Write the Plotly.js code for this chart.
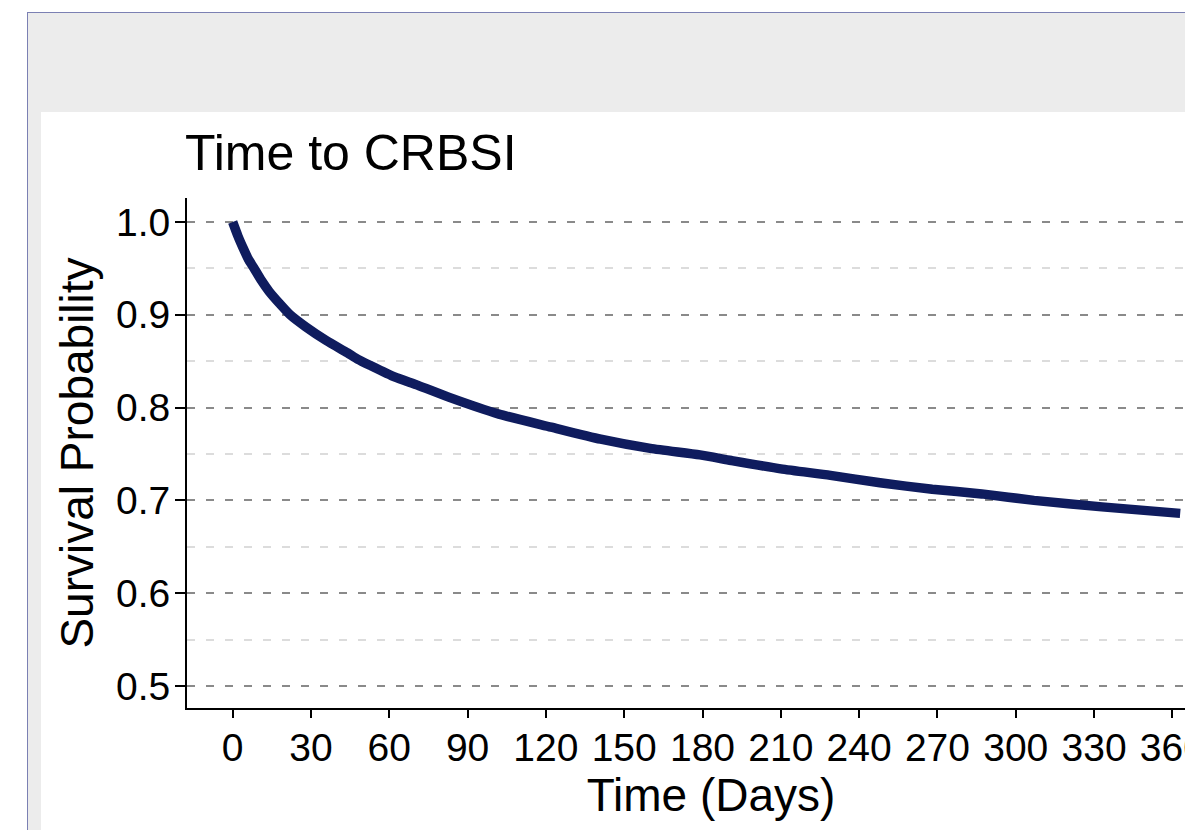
<!DOCTYPE html>
<html>
<head>
<meta charset="utf-8">
<script src="https://cdn.plot.ly/plotly-3.0.1.min.js"></script>
<style>
  html, body { margin: 0; padding: 0; width: 1185px; height: 830px; overflow: hidden; background: #ffffff; }
  #frame { position: absolute; left: 27px; top: 12px; width: 1400px; height: 1000px;
           border-left: 1px solid #7b80b3; border-top: 1px solid #7b80b3; background: #ececec; }
  #chart { position: absolute; left: 41px; top: 112px; width: 1224px; height: 726px; background: #ffffff; }
</style>
</head>
<body>
<div id="frame"></div>
<div id="chart"></div>
<script>
// Kaplan-Meier estimate
const days = [0, 2, 4, 6, 8, 11, 14, 18, 22, 28, 36, 44, 48, 53, 62, 71, 83, 102, 122, 141, 160, 179, 191, 210, 229, 248, 268, 287, 307, 333, 363];
const survival = [1.000, 0.985, 0.972, 0.960, 0.951, 0.937, 0.925, 0.912, 0.900, 0.887, 0.872, 0.859, 0.852, 0.845, 0.833, 0.824, 0.811, 0.793, 0.779, 0.766, 0.756, 0.749, 0.743, 0.734, 0.727, 0.719, 0.712, 0.707, 0.700, 0.693, 0.686];
const xTicks = [0, 30, 60, 90, 120, 150, 180, 210, 240, 270, 300, 330, 360];
const yTicks = [0.5, 0.6, 0.7, 0.8, 0.9, 1.0];
const yTickLabels = ['0.5', '0.6', '0.7', '0.8', '0.9', '1.0'];
const chartTitle = 'Time to CRBSI';
const xTitle = 'Time (Days)';
const yTitle = 'Survival Probability';

const FONT = 'Liberation Sans, Arial, sans-serif';
const W = 1224, H = 726;

const trace = {
  x: days, y: survival, type: 'scatter', mode: 'lines',
  line: { color: '#0f1c5e', width: 9.5, shape: 'spline', smoothing: 0.6 },
  hoverinfo: 'x+y', showlegend: false
};

const layout = {
  width: W, height: H,
  margin: { l: 146, r: 30, t: 86, b: 130, pad: 0 },
  paper_bgcolor: '#ffffff', plot_bgcolor: '#ffffff',
  font: { family: FONT, color: '#000000' },
  title: {
    text: chartTitle, font: { family: FONT, size: 50, color: '#000000' },
    xref: 'container', yref: 'container',
    x: 144 / W, xanchor: 'left', y: 1 - 58 / H, yanchor: 'bottom'
  },
  xaxis: {
    range: [-17.5, 384], tickvals: xTicks, ticktext: xTicks.map(String),
    showgrid: false, zeroline: false,
    showline: true, linecolor: '#000000', linewidth: 2,
    ticks: 'outside', ticklen: 8, tickwidth: 2, tickcolor: '#000000',
    tickfont: { family: FONT, size: 39, color: '#000000' },
    ticklabelstandoff: -4,
    title: { text: xTitle, font: { family: FONT, size: 46, color: '#000000' }, standoff: 7 },
    fixedrange: true
  },
  yaxis: {
    range: [0.47629, 1.02586], tickvals: yTicks, ticktext: yTickLabels,
    showgrid: true, gridcolor: '#8a8a8a', gridwidth: 2, griddash: '8px,11px',
    minor: { dtick: 0.05, tick0: 0.5, showgrid: true, gridcolor: '#dcdcdc', gridwidth: 2, griddash: '8px,11px', ticks: '' },
    zeroline: false,
    showline: true, linecolor: '#000000', linewidth: 2,
    ticks: 'outside', ticklen: 10, tickwidth: 2, tickcolor: '#000000',
    tickfont: { family: FONT, size: 39, color: '#000000' },
    ticklabelstandoff: -3,
    title: { text: yTitle, font: { family: FONT, size: 46, color: '#000000' }, standoff: 8 },
    fixedrange: true
  }
};

Plotly.newPlot('chart', [trace], layout, { displayModeBar: false, responsive: false });
</script>
</body>
</html>
